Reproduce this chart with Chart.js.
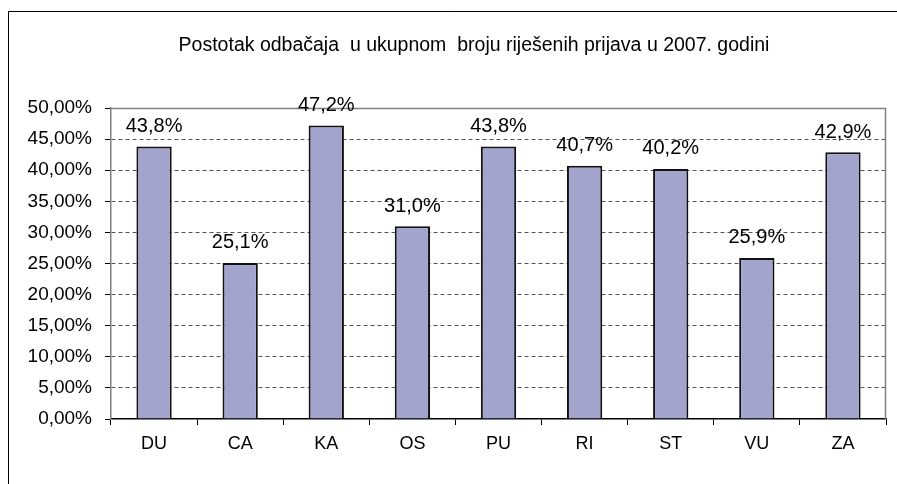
<!DOCTYPE html>
<html><head><meta charset="utf-8">
<script src="https://cdn.jsdelivr.net/npm/chart.js@4/dist/chart.umd.min.js"></script>
<style>html,body{margin:0;padding:0;background:#fff;}#wrap{width:897px;height:484px;position:relative;}</style>
</head><body><div id="wrap"><canvas id="c" width="897" height="484"></canvas></div>
<script>
const titleText = 'Postotak odbačaja  u ukupnom  broju riješenih prijava u 2007. godini';
const categories = ['DU','CA','KA','OS','PU','RI','ST','VU','ZA'];
const values = [43.8, 25.1, 47.2, 31.0, 43.8, 40.7, 40.2, 25.9, 42.9];
const yMin = 0, yMax = 50, yStep = 5;

const FONT = '"Liberation Sans", Arial, sans-serif';
const fmtTick = v => v.toFixed(2).replace('.', ',') + '%';
const fmtLabel = v => v.toFixed(1).replace('.', ',') + '%';

const decor = {
  id: 'decor',
  beforeDraw(chart) {
    const ctx = chart.ctx;
    ctx.save();
    ctx.fillStyle = '#fff';
    ctx.fillRect(0, 0, chart.width, chart.height);
    ctx.strokeStyle = '#000';
    ctx.lineWidth = 1;
    ctx.beginPath();
    ctx.moveTo(8.5, chart.height + 2);
    ctx.lineTo(8.5, 11.5);
    ctx.lineTo(chart.width + 2, 11.5);
    ctx.stroke();
    ctx.fillStyle = '#000';
    ctx.font = '19.5px ' + FONT;
    ctx.textAlign = 'center';
    ctx.textBaseline = 'alphabetic';
    ctx.fillText(titleText, 474, 51);
    ctx.restore();
  },
  beforeDatasetsDraw(chart) {
    const ctx = chart.ctx, a = chart.chartArea;
    ctx.save();
    ctx.strokeStyle = '#808080';
    ctx.lineWidth = 1.5;
    ctx.beginPath();
    ctx.moveTo(a.left, Math.round(a.top) + 0.5);
    ctx.lineTo(Math.round(a.right) - 0.5, Math.round(a.top) + 0.5);
    ctx.lineTo(Math.round(a.right) - 0.5, a.bottom);
    ctx.stroke();
    ctx.restore();
  },
  afterDatasetsDraw(chart) {
    const ctx = chart.ctx;
    const meta = chart.getDatasetMeta(0);
    ctx.save();
    ctx.fillStyle = '#000';
    ctx.font = '20px ' + FONT;
    ctx.textAlign = 'center';
    ctx.textBaseline = 'middle';
    meta.data.forEach((bar, i) => {
      ctx.fillText(fmtLabel(values[i]), bar.x, bar.y - 20);
    });
    ctx.restore();
  }
};

new Chart(document.getElementById('c'), {
  type: 'bar',
  data: {
    labels: categories,
    datasets: [{
      data: values,
      backgroundColor: '#a3a4ce',
      borderColor: '#111',
      borderWidth: 2,
      barPercentage: 0.41,
      categoryPercentage: 1.0
    }]
  },
  options: {
    responsive: false,
    animation: false,
    devicePixelRatio: 1,
    layout: { padding: { top: 108, right: 11, bottom: 0, left: 0 } },
    plugins: { legend: { display: false }, title: { display: false }, tooltip: { enabled: false } },
    scales: {
      x: {
        afterFit(s) { s.height = 65; },
        grid: { display: true, drawOnChartArea: false, offset: true, tickLength: 6, color: '#000', tickColor: '#000', tickWidth: 1 },
        border: { display: true, color: '#000', width: 1.5 },
        ticks: { color: '#000', font: { family: FONT, size: 18 }, padding: 8, maxRotation: 0 }
      },
      y: {
        min: yMin, max: yMax,
        afterFit(s) { s.width = 111; },
        grid: {
          drawOnChartArea: true, drawTicks: true, tickLength: 6,
          color: ctx => (ctx.tick && (ctx.tick.value === yMin || ctx.tick.value === yMax)) ? 'rgba(0,0,0,0)' : '#555',
          tickColor: '#000', tickBorderDash: [], lineWidth: 1
        },
        border: { display: true, color: '#808080', width: 1.5, dash: [4, 3] },
        ticks: { stepSize: yStep, color: '#000', font: { family: FONT, size: 19 }, padding: 13, callback: v => fmtTick(v) }
      }
    }
  },
  plugins: [decor]
});
</script></body></html>
